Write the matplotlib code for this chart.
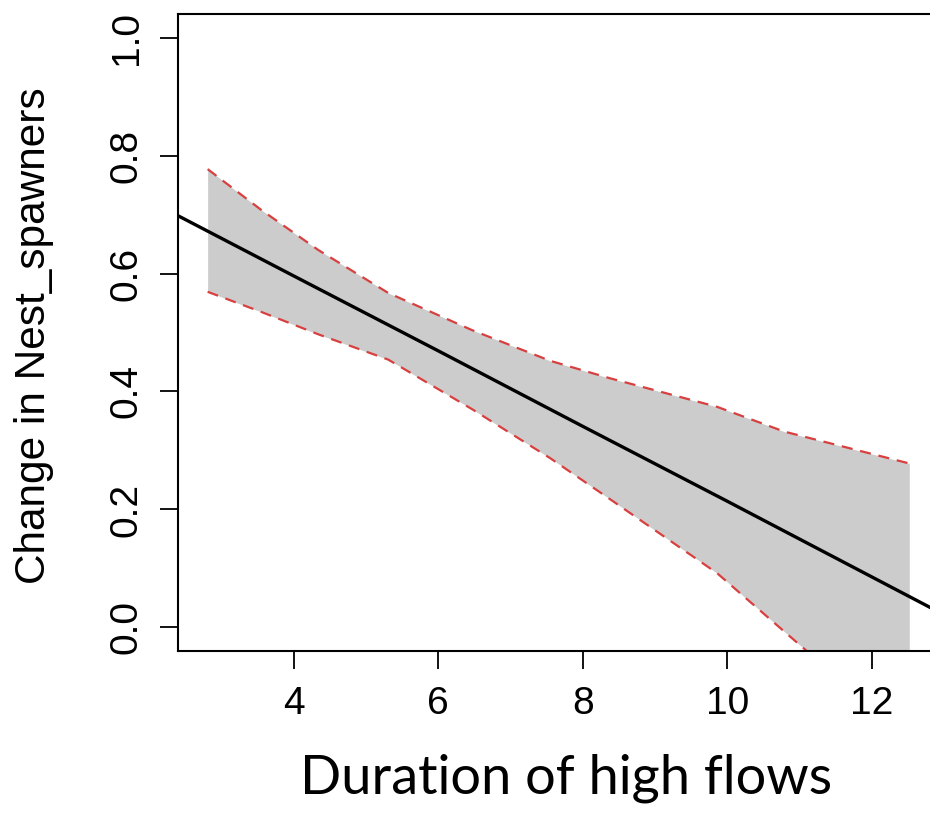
import numpy as np
import matplotlib
matplotlib.use("Agg")
import matplotlib.pyplot as plt

# -----------------------------------
# Data
# -----------------------------------
# fitted line (spans the full plot width)
fit_x = [2.40, 4.0, 6.0, 8.0, 10.0, 12.9]
fit_y = [0.698, 0.596, 0.469, 0.341, 0.214, 0.028]

# confidence band
band_x = [2.81, 3.55, 4.34, 5.31, 6.47, 7.55, 8.36, 9.86, 10.79, 12.52]
band_upper = [0.777, 0.708, 0.640, 0.567, 0.504, 0.452, 0.423, 0.374, 0.332, 0.278]
band_lower = [0.569, 0.535, 0.497, 0.454, 0.370, 0.287, 0.219, 0.092, -0.007, -0.190]

x_ticks = [4, 6, 8, 10, 12]
y_ticks = [0.0, 0.2, 0.4, 0.6, 0.8, 1.0]

x_label = "Duration of high flows"
y_label = "Change in Nest_spawners"

# -----------------------------------
# Figure
# -----------------------------------
W, H = 930, 817
fig = plt.figure(figsize=(W / 100, H / 100), dpi=100)
plt.rcParams["font.family"] = ["Liberation Sans", "DejaVu Sans"]

# axes box in pixels: left 178, right ~936 (cut off), top 14, bottom 651
ax = fig.add_axes([178 / W, (H - 651) / H, (936 - 178) / W, (651 - 14) / H])
ax.set_xlim(2.40, 12.89)
ax.set_ylim(-0.04, 1.04)

ax.fill_between(band_x, band_lower, band_upper, color="#cccccc", lw=0, zorder=1)
ax.plot(band_x, band_upper, color="#d8403f", lw=1.6, ls=(0, (5, 3.5)), zorder=2)
ax.plot(band_x, band_lower, color="#d8403f", lw=1.6, ls=(0, (5, 3.5)), zorder=2)
ax.plot(fit_x, fit_y, color="black", lw=2.4, zorder=3)

ax.set_xticks(x_ticks)
ax.set_xticklabels([str(t) for t in x_ticks])
ax.set_yticks(y_ticks)
ax.set_yticklabels([f"{t:.1f}" for t in y_ticks], rotation=90, va="center")

ax.tick_params(axis="both", length=13, width=1.3, labelsize=28)
ax.tick_params(axis="x", pad=12)
ax.tick_params(axis="y", pad=11)
for s in ax.spines.values():
    s.set_linewidth(1.5)

fig.text(34 / W, 1 - 336 / H, y_label, fontsize=30.5, rotation=90,
         ha="center", va="center")
fig.text(566 / W, 1 - 778 / H, x_label, fontsize=39, ha="center", va="center",
         family=["Lato", "DejaVu Sans"], color="black")

fig.savefig("out.png", dpi=100)
